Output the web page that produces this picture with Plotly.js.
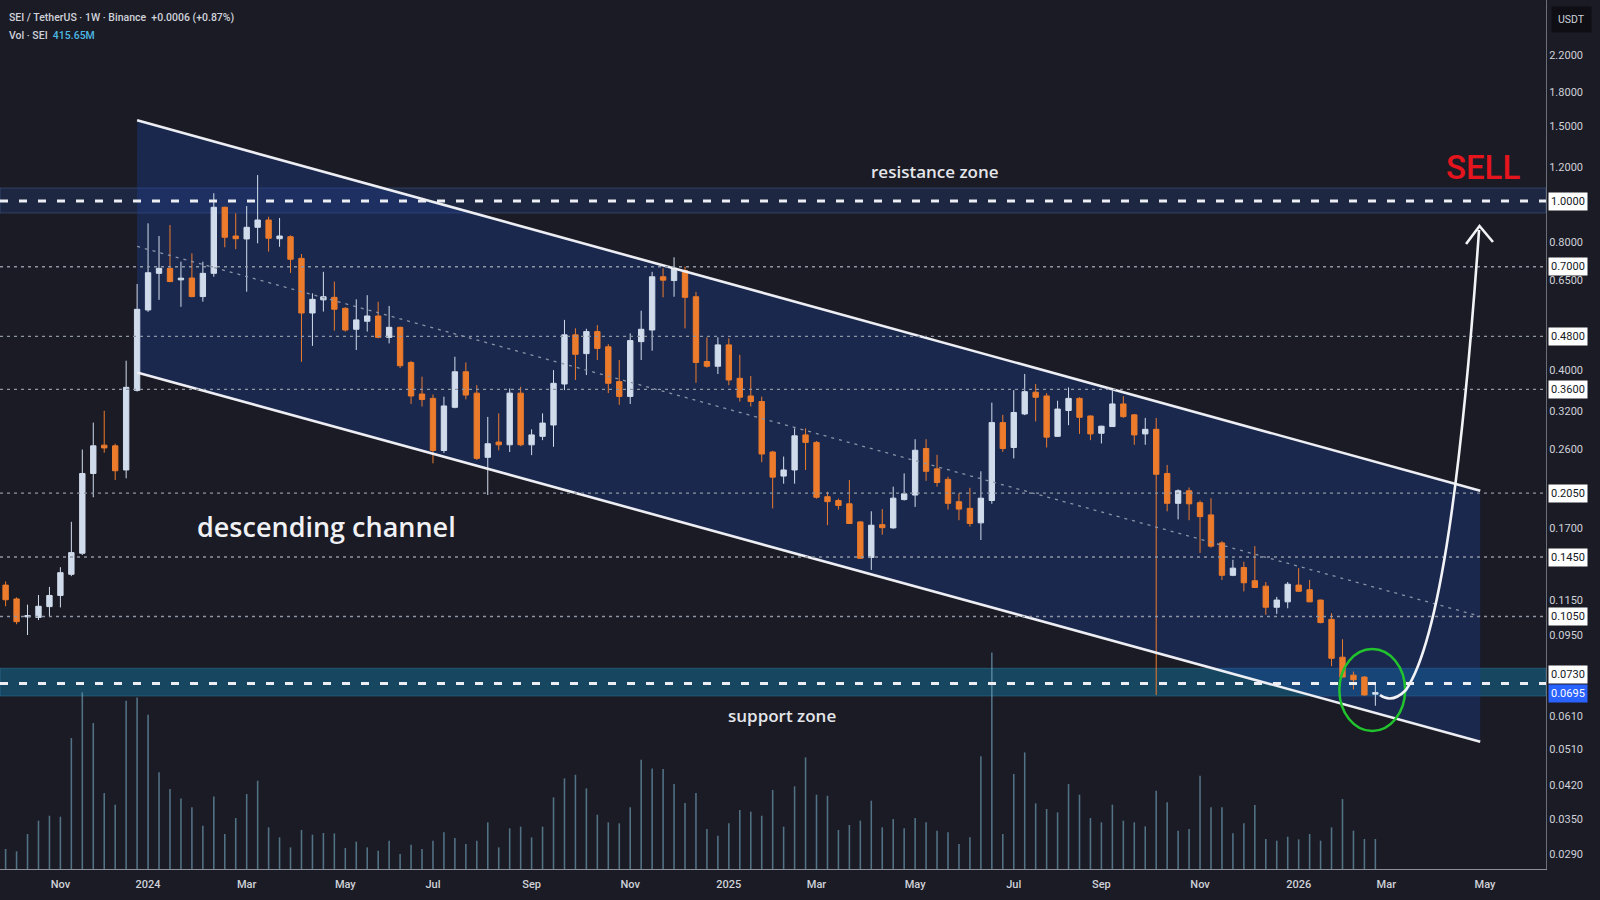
<!DOCTYPE html>
<html>
<head>
<meta charset="utf-8">
<script src="https://cdn.plot.ly/plotly-3.0.1.min.js"></script>
<style>
  html, body { margin: 0; padding: 0; background: #1b1b25; }
  #chart { width: 1600px; height: 900px; }
</style>
</head>
<body>
<div id="chart"></div>
<script>
// weekly SEI/USDT candles, first bar Mon 2 Oct 2023
const firstWeek = '2023-10-02';

const openP = [
  0.1245, 0.1155, 0.1048, 0.1045, 0.1108, 0.1177, 0.1320, 0.1480, 0.2281, 0.2660,
  0.2650, 0.2325, 0.3580, 0.5537, 0.6755, 0.6940, 0.6520, 0.6585, 0.5955, 0.6755,
  0.9665, 0.8270, 0.8140, 0.8670, 0.9020, 0.8150, 0.8240, 0.7325, 0.5447, 0.5850,
  0.5930, 0.5587, 0.4987, 0.5209, 0.5360, 0.4773, 0.5040, 0.4166, 0.3510, 0.3428,
  0.2584, 0.3266, 0.3960, 0.3527, 0.2490, 0.2705, 0.2665, 0.3527, 0.2665, 0.2790,
  0.2967, 0.3706, 0.4838, 0.4370, 0.4925, 0.4535, 0.3755, 0.3464, 0.4663, 0.4967,
  0.6630, 0.6495, 0.6857, 0.5950, 0.4187, 0.4081, 0.4582, 0.3822, 0.3473, 0.3370,
  0.2563, 0.2249, 0.2325, 0.2812, 0.2700, 0.2011, 0.1970, 0.1935, 0.1754, 0.1446,
  0.1728, 0.1698, 0.1980, 0.2029, 0.2612, 0.2339, 0.2209, 0.1957, 0.1888, 0.1745,
  0.1970, 0.3006, 0.2626, 0.3150, 0.3545, 0.3473, 0.2790, 0.3210, 0.3428, 0.3116,
  0.2837, 0.2942, 0.3326, 0.3135, 0.2827, 0.2898, 0.2281, 0.1940, 0.2077, 0.1947,
  0.1822, 0.1565, 0.1313, 0.1370, 0.1275, 0.1238, 0.1104, 0.1137, 0.1245, 0.1214,
  0.1148, 0.1034, 0.0842, 0.0764, 0.0756, 0.0689
];
const highP = [
  0.1270, 0.1165, 0.1120, 0.1180, 0.1233, 0.1372, 0.1755, 0.2597, 0.3006, 0.3206,
  0.2680, 0.4205, 0.6374, 0.8860, 0.8270, 0.8780, 0.7195, 0.7529, 0.7195, 1.0430,
  0.9700, 0.9354, 0.9730, 1.1510, 0.9180, 0.9120, 0.8300, 0.7500, 0.6060, 0.6810,
  0.6460, 0.5620, 0.5866, 0.6000, 0.5790, 0.5660, 0.5060, 0.4200, 0.3856, 0.3500,
  0.3460, 0.4296, 0.4166, 0.3683, 0.3100, 0.3160, 0.3619, 0.3650, 0.2898, 0.3160,
  0.3996, 0.5247, 0.5013, 0.5000, 0.5100, 0.4600, 0.4220, 0.4877, 0.5516, 0.6810,
  0.6940, 0.7370, 0.7000, 0.6110, 0.4774, 0.4774, 0.4749, 0.4342, 0.3870, 0.3460,
  0.2580, 0.2500, 0.2913, 0.2913, 0.2720, 0.2066, 0.1990, 0.2201, 0.1760, 0.1858,
  0.1880, 0.2124, 0.2282, 0.2747, 0.2747, 0.2524, 0.2240, 0.2050, 0.2110, 0.2308,
  0.3350, 0.3135, 0.3585, 0.3913, 0.3706, 0.3527, 0.3385, 0.3637, 0.3450, 0.3125,
  0.2955, 0.3573, 0.3470, 0.3150, 0.3083, 0.3083, 0.2389, 0.2093, 0.2114, 0.1970,
  0.1995, 0.1580, 0.1428, 0.1413, 0.1538, 0.1266, 0.1168, 0.1266, 0.1365, 0.1280,
  0.1150, 0.1069, 0.0928, 0.0779, 0.0760, 0.0730
];
const lowP = [
  0.1110, 0.1007, 0.0950, 0.1030, 0.1048, 0.1103, 0.1307, 0.1466, 0.2005, 0.2553,
  0.2201, 0.2222, 0.3556, 0.5480, 0.5850, 0.6440, 0.5633, 0.5930, 0.5793, 0.6630,
  0.7780, 0.7700, 0.6115, 0.7950, 0.7600, 0.7800, 0.6770, 0.4180, 0.4557, 0.5490,
  0.4950, 0.4925, 0.4457, 0.4925, 0.4750, 0.4620, 0.4040, 0.3326, 0.3280, 0.2410,
  0.2550, 0.3248, 0.3410, 0.2454, 0.2030, 0.2586, 0.2563, 0.2645, 0.2520, 0.2733,
  0.2636, 0.3585, 0.3788, 0.3890, 0.4220, 0.3528, 0.3310, 0.3326, 0.4220, 0.4440,
  0.5930, 0.5950, 0.5013, 0.3730, 0.4050, 0.3913, 0.3683, 0.3370, 0.3280, 0.2425,
  0.1887, 0.2158, 0.2158, 0.2325, 0.1990, 0.1723, 0.1875, 0.1735, 0.1435, 0.1352,
  0.1637, 0.1690, 0.1970, 0.1903, 0.2192, 0.2124, 0.1876, 0.1770, 0.1710, 0.1590,
  0.1935, 0.2565, 0.2476, 0.3130, 0.3025, 0.2626, 0.2780, 0.2964, 0.2827, 0.2733,
  0.2685, 0.2940, 0.3083, 0.2665, 0.2665, 0.0686, 0.1858, 0.1778, 0.1770, 0.1482,
  0.1525, 0.1280, 0.1307, 0.1203, 0.1225, 0.1060, 0.1065, 0.1098, 0.1200, 0.1135,
  0.1012, 0.0802, 0.0755, 0.0707, 0.0684, 0.0647
];
const closeP = [
  0.1150, 0.1021, 0.1055, 0.1110, 0.1177, 0.1332, 0.1485, 0.2281, 0.2650, 0.2620,
  0.2315, 0.3640, 0.5557, 0.6777, 0.6940, 0.6460, 0.6580, 0.5955, 0.6755, 0.9665,
  0.8214, 0.8150, 0.8670, 0.9020, 0.8170, 0.8270, 0.7290, 0.5447, 0.5866, 0.5950,
  0.5560, 0.4967, 0.5247, 0.5360, 0.4773, 0.5040, 0.4093, 0.3473, 0.3408, 0.2584,
  0.3290, 0.3960, 0.3490, 0.2476, 0.2680, 0.2665, 0.3527, 0.2665, 0.2812, 0.2998,
  0.3720, 0.4838, 0.4354, 0.4925, 0.4495, 0.3720, 0.3464, 0.4690, 0.4987, 0.6630,
  0.6510, 0.6940, 0.5930, 0.4166, 0.4081, 0.4582, 0.3788, 0.3450, 0.3370, 0.2535,
  0.2236, 0.2325, 0.2798, 0.2700, 0.2005, 0.1958, 0.1918, 0.1739, 0.1440, 0.1723,
  0.1700, 0.1995, 0.2043, 0.2587, 0.2308, 0.2172, 0.1940, 0.1880, 0.1739, 0.1995,
  0.3006, 0.2612, 0.3175, 0.3555, 0.3449, 0.2778, 0.3235, 0.3428, 0.3093, 0.2827,
  0.2948, 0.3326, 0.3105, 0.2812, 0.2898, 0.2271, 0.1940, 0.2077, 0.1935, 0.1805,
  0.1538, 0.1313, 0.1365, 0.1261, 0.1229, 0.1104, 0.1148, 0.1251, 0.1204, 0.1137,
  0.1016, 0.0837, 0.0756, 0.0745, 0.0686, 0.0695
];
// weekly volume, millions of SEI
const volumeM = [
  277, 245, 485, 670, 739, 725, 1816, 2449, 2024, 1053,
  892, 2333, 2379, 2139, 1340, 1109, 979, 855, 601, 1007,
  485, 707, 1040, 1224, 578, 439, 300, 541, 476, 499,
  494, 291, 379, 300, 254, 393, 208, 337, 277, 393,
  508, 430, 347, 393, 647, 300, 564, 587, 439, 587,
  993, 1257, 1307, 1118, 753, 647, 633, 855, 1515, 1395,
  1386, 1178, 915, 1053, 554, 462, 633, 818, 795, 739,
  1095, 587, 1146, 1548, 1030, 1016, 541, 610, 670, 947,
  578, 693, 564, 707, 647, 531, 508, 347, 439, 1562,
  3003, 485, 1317, 1617, 910, 832, 785, 1178, 1030, 707,
  647, 892, 670, 647, 591, 1086, 924, 531, 554, 1294,
  855, 855, 494, 633, 887, 416, 393, 448, 411, 485,
  393, 578, 970, 531, 416, 416
];

// drawn levels and zones
const dottedLevels = [0.70, 0.48, 0.36, 0.205, 0.145, 0.105];
const dashedLevels = [1.0, 0.073];
const resistanceZone = [0.937, 1.073];
const supportZone = [0.0682, 0.0793];
const channelDates = ['2023-12-25', '2026-05-01'];
const channelUpper = [1.549, 0.2077];
const channelLower = [0.3947, 0.0532];
const channelMid = [0.7818, 0.1051];
const lastPrice = 0.0695;

// axis labels
const priceTicks = [2.2, 1.8, 1.5, 1.2, 0.8, 0.65, 0.4, 0.32, 0.26, 0.17, 0.115, 0.095, 0.061, 0.051, 0.042, 0.035, 0.029];
const monthTicks = ['2023-11-06', '2024-01-01', '2024-03-04', '2024-05-06', '2024-07-01', '2024-09-02', '2024-11-04',
  '2025-01-06', '2025-03-03', '2025-05-05', '2025-07-07', '2025-09-01', '2025-11-03', '2026-01-05', '2026-03-02', '2026-05-04'];
const monthLabels = ['Nov', '2024', 'Mar', 'May', 'Jul', 'Sep', 'Nov', '2025', 'Mar', 'May', 'Jul', 'Sep', 'Nov', '2026', 'Mar', 'May'];

const weeks = [];
for (var i = 0; i < openP.length; i++) {
  var d = new Date(firstWeek + 'T00:00:00Z');
  d.setUTCDate(d.getUTCDate() + 7 * i);
  weeks.push(d.toISOString().slice(0, 10));
}

const BG = '#1b1b25';
const TXT = '#cfd2d9';
const UI = 'Roboto, "DejaVu Sans", sans-serif';
const plotW = 1546, plotH = 869;

// pixel inside plot area -> paper coords
function P(x, y) { return [(x / plotW).toFixed(4), (1 - y / plotH).toFixed(4)]; }
function pp(x, y) { var p = P(x, y); return p[0] + ',' + p[1]; }

const traces = [
  {
    type: 'bar', x: weeks, y: volumeM, yaxis: 'y', xaxis: 'x',
    width: 86400000, marker: { color: 'rgba(112,162,186,0.65)', line: { width: 0 } },
    hoverinfo: 'skip'
  },
  {
    type: 'candlestick', x: weeks, open: openP, high: highP, low: lowP, close: closeP,
    xaxis: 'x', yaxis: 'y2', whiskerwidth: 0,
    increasing: { line: { color: '#d0dcec', width: 1 }, fillcolor: '#d0dcec' },
    decreasing: { line: { color: '#ec7b2c', width: 1 }, fillcolor: '#ec7b2c' },
    hoverinfo: 'skip'
  },
  {
    type: 'scatter', mode: 'lines', x: channelDates, y: channelMid, xaxis: 'x', yaxis: 'y2',
    line: { color: '#8a93a6', width: 1.3, dash: '3px,5px' }, hoverinfo: 'skip'
  },
  {
    type: 'scatter', mode: 'lines', x: channelDates, y: channelUpper, xaxis: 'x', yaxis: 'y2',
    line: { color: '#eceef3', width: 2.6 }, hoverinfo: 'skip'
  },
  {
    type: 'scatter', mode: 'lines', x: channelDates, y: channelLower, xaxis: 'x', yaxis: 'y2',
    line: { color: '#eceef3', width: 2.6 }, hoverinfo: 'skip'
  }
];

const shapes = [
  {
    type: 'rect', layer: 'below', xref: 'paper', yref: 'y2', x0: 0, x1: 1,
    y0: resistanceZone[0], y1: resistanceZone[1],
    fillcolor: 'rgba(40,80,170,0.22)', line: { color: 'rgba(90,120,190,0.35)', width: 1 }
  },
  {
    type: 'rect', layer: 'below', xref: 'paper', yref: 'y2', x0: 0, x1: 1,
    y0: supportZone[0], y1: supportZone[1],
    fillcolor: 'rgba(20,130,180,0.42)', line: { color: 'rgba(60,150,190,0.35)', width: 1 }
  },
  {
    type: 'path', layer: 'below', xref: 'x', yref: 'y2',
    path: 'M' + channelDates[0] + ',' + channelUpper[0] +
          'L' + channelDates[1] + ',' + channelUpper[1] +
          'L' + channelDates[1] + ',' + channelLower[1] +
          'L' + channelDates[0] + ',' + channelLower[0] + 'Z',
    fillcolor: 'rgba(28,66,165,0.33)', line: { width: 0 }
  }
];
dottedLevels.forEach(function (v) {
  shapes.push({ type: 'line', xref: 'paper', yref: 'y2', x0: 0, x1: 1, y0: v, y1: v,
    line: { color: '#8e95a3', width: 1.3, dash: '3px,4px' } });
});
dashedLevels.forEach(function (v) {
  shapes.push({ type: 'line', xref: 'paper', yref: 'y2', x0: 0, x1: 1, y0: v, y1: v,
    line: { color: '#eceef3', width: 3, dash: '8px,11px' } });
});
// green circle round the last candles
shapes.push({ type: 'circle', xref: 'x', yref: 'y2', x0: '2026-01-31', x1: '2026-03-14', y0: 0.0564, y1: 0.088,
  line: { color: '#22c42d', width: 2.5 } });
// projected move arrow
shapes.push({ type: 'path', xref: 'paper', yref: 'paper',
  path: 'M' + pp(1380, 695) + ' Q' + pp(1392, 704) + ' ' + pp(1406, 690) +
        ' C' + pp(1440, 640) + ' ' + pp(1462, 470) + ' ' + pp(1479, 230) +
        ' M' + pp(1466, 244) + ' L' + pp(1479.5, 226) + ' L' + pp(1493, 242),
  line: { color: '#f2f3f6', width: 2.6 } });

function txt(x, y, text, font, extra) {
  var p = P(x, y);
  return Object.assign({ xref: 'paper', yref: 'paper', x: +p[0], y: +p[1], text: text,
    xanchor: 'center', yanchor: 'middle', showarrow: false, font: font }, extra || {});
}

const annotations = [
  txt(7, 17, 'SEI / TetherUS · 1W · Binance  +0.0006 (+0.87%)', { family: UI, size: 10.5, color: TXT, weight: 500 }, { xanchor: 'left' }),
  txt(7, 36, 'Vol · SEI  <span style="color:#4cb8e4">415.65M</span>', { family: UI, size: 10.5, color: TXT, weight: 500 }, { xanchor: 'left' }),
  txt(935, 172, 'resistance zone', { family: 'Open Sans', size: 17, color: '#e4e6ea', weight: 600 }),
  txt(782, 715, 'support zone', { family: 'Open Sans', size: 17, color: '#e4e6ea', weight: 600 }),
  txt(327, 527, 'descending channel', { family: 'Open Sans', size: 27, color: '#f0f1f4', weight: 600 }),
  txt(1483, 167, 'SELL', { family: UI, size: 33, color: '#e5141d', weight: 500 }),
  txt(1571, 20, 'USDT', { family: UI, size: 10.5, color: TXT }, { bgcolor: '#0e0e14', borderpad: 6 })
];
// boxed price labels on the scale
const boxed = dottedLevels.concat(dashedLevels);
boxed.forEach(function (v) {
  annotations.push({ xref: 'paper', yref: 'y2', x: 1.0013, y: Math.log10(v), xanchor: 'left', yanchor: 'middle',
    text: v.toFixed(4), showarrow: false, bgcolor: '#ffffff', borderpad: 2,
    yshift: v === 0.073 ? 9 : 0,
    font: { family: UI, size: 11, color: '#131722' } });
});
annotations.push({ xref: 'paper', yref: 'y2', x: 1.0013, y: Math.log10(lastPrice), xanchor: 'left', yanchor: 'middle',
  text: lastPrice.toFixed(4), showarrow: false, bgcolor: '#2962ff', borderpad: 2, yshift: -1,
  font: { family: UI, size: 11, color: '#ffffff' } });

const layout = {
  width: 1600, height: 900,
  margin: { l: 0, r: 54, t: 0, b: 31, pad: 0 },
  paper_bgcolor: BG, plot_bgcolor: BG,
  showlegend: false, hovermode: false, dragmode: false,
  font: { family: UI, color: TXT, size: 11 },
  xaxis: {
    type: 'date', range: ['2023-09-28 10:00', '2026-06-12'],
    tickvals: monthTicks, ticktext: monthLabels,
    tickfont: { family: UI, size: 11, color: TXT, weight: 500 },
    ticklabelstandoff: 5,
    showgrid: false, zeroline: false, showline: true, linecolor: '#8b8f98', linewidth: 1,
    ticks: '', rangeslider: { visible: false }, fixedrange: true
  },
  yaxis: { range: [0, 12050], visible: false, fixedrange: true },
  yaxis2: {
    type: 'log', overlaying: 'y', side: 'right', anchor: 'x',
    range: [-1.5736, 0.4735],
    tickvals: priceTicks, ticktext: priceTicks.map(function (v) { return v.toFixed(4); }),
    tickfont: { family: UI, size: 11, color: TXT },
    showgrid: false, zeroline: false, showline: true, linecolor: '#6b6f78', linewidth: 1,
    ticks: '', fixedrange: true
  },
  shapes: shapes,
  annotations: annotations
};

Plotly.newPlot('chart', traces, layout, { displayModeBar: false, staticPlot: true });
</script>
</body>
</html>
